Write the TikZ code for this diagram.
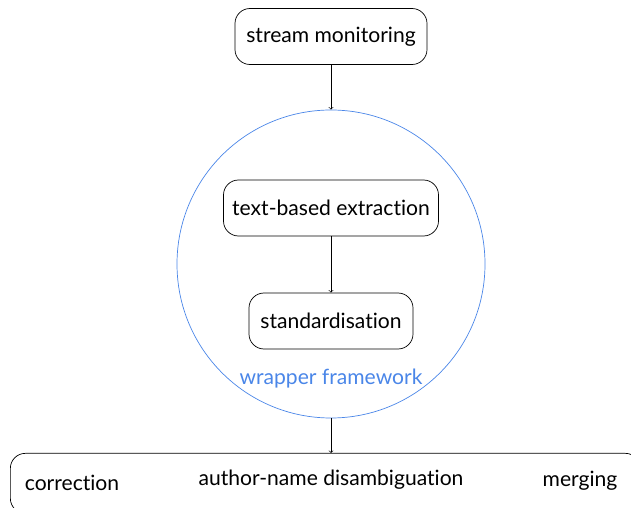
\documentclass[tikz,border=0pt]{standalone}
\usepackage{fontspec}
\setmainfont{Lato}[Ligatures={NoCommon,NoRare}]
\usetikzlibrary{positioning, shapes}

\definecolor{wrapblue}{HTML}{4A86E8}

\begin{document}
\begin{tikzpicture}[
    x=0.03cm, y=-0.03cm,
    font=\fontsize{18pt}{21pt}\selectfont,
    stepbox/.style={rectangle, rounded corners=0.45cm, draw, line width=0.6pt,
        minimum height=1.68cm, inner sep=0pt, align=center},
    wrapper/.style={circle, draw=wrapblue, line width=0.6pt, minimum size=9.24cm},
    flow/.style={->, line width=0.55pt}
]
\useasboundingbox (0,0) rectangle (631,508);
\clip (0,0) rectangle (631,508);

% Wrapper circle
\node[wrapper] (wrap) at (331,264) {};
\node[text=wrapblue] (wraplabel) at (331,379) {wrapper framework};

% Stages
\node[stepbox, minimum width=5.76cm] (monitor) at (331,36.5) {stream monitoring};
\node[stepbox, minimum width=6.45cm] (extract) at (331,208) {text-based extraction};
\node[stepbox, minimum width=4.92cm] (standard) at (331,321) {standardisation};

% Final stage box with three steps
\node[stepbox, minimum width=18.9cm, minimum height=1.8cm, anchor=north west] (post) at (10,453) {};
\node (correct) at (72,483) {correction};
\node (disamb) at (331,480) {author-name disambiguation};
\node (merge) at (580,481) {merging};

% Edges
\draw[flow] (monitor) -- (wrap);
\draw[flow] (extract) -- (standard);
\draw[flow] (wrap.south) -- (wrap.south |- post.north);

\end{tikzpicture}
\end{document}
